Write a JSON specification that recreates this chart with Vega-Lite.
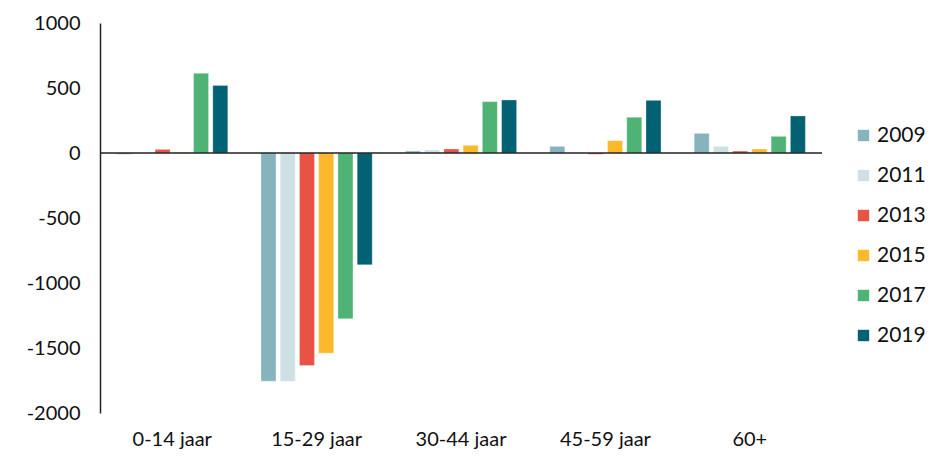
{
  "$schema": "https://vega.github.io/schema/vega-lite/v6.json",
  "width": 722,
  "height": 390,
  "autosize": "none",
  "padding": {"left": 100, "top": 23, "right": 116, "bottom": 49},
  "background": "white",
  "config": {"font": "Lato", "view": {"stroke": null}},
  "data": {
    "values": [
      {"group": "0-14 jaar", "year": "2009", "value": -10},
      {"group": "0-14 jaar", "year": "2011", "value": -5},
      {"group": "0-14 jaar", "year": "2013", "value": 28},
      {"group": "0-14 jaar", "year": "2015", "value": 5},
      {"group": "0-14 jaar", "year": "2017", "value": 613},
      {"group": "0-14 jaar", "year": "2019", "value": 520},
      {"group": "15-29 jaar", "year": "2009", "value": -1755},
      {"group": "15-29 jaar", "year": "2011", "value": -1755},
      {"group": "15-29 jaar", "year": "2013", "value": -1635},
      {"group": "15-29 jaar", "year": "2015", "value": -1540},
      {"group": "15-29 jaar", "year": "2017", "value": -1275},
      {"group": "15-29 jaar", "year": "2019", "value": -860},
      {"group": "30-44 jaar", "year": "2009", "value": 15},
      {"group": "30-44 jaar", "year": "2011", "value": 23},
      {"group": "30-44 jaar", "year": "2013", "value": 31},
      {"group": "30-44 jaar", "year": "2015", "value": 59},
      {"group": "30-44 jaar", "year": "2017", "value": 395},
      {"group": "30-44 jaar", "year": "2019", "value": 408},
      {"group": "45-59 jaar", "year": "2009", "value": 51},
      {"group": "45-59 jaar", "year": "2011", "value": 0},
      {"group": "45-59 jaar", "year": "2013", "value": -10},
      {"group": "45-59 jaar", "year": "2015", "value": 95},
      {"group": "45-59 jaar", "year": "2017", "value": 275},
      {"group": "45-59 jaar", "year": "2019", "value": 405},
      {"group": "60+", "year": "2009", "value": 151},
      {"group": "60+", "year": "2011", "value": 51},
      {"group": "60+", "year": "2013", "value": 15},
      {"group": "60+", "year": "2015", "value": 31},
      {"group": "60+", "year": "2017", "value": 128},
      {"group": "60+", "year": "2019", "value": 285}
    ]
  },
  "layer": [
    {
      "mark": {"type": "bar", "stroke": "white", "strokeOpacity": 0.6, "strokeWidth": 0.5},
      "encoding": {
        "x": {
          "field": "group", "type": "nominal", "sort": null,
          "scale": {"paddingInner": 0.23, "paddingOuter": 0.115},
          "axis": {"title": null, "domain": false, "ticks": false, "labelAngle": 0, "labelFontSize": 20, "labelColor": "#111", "labelPadding": 16, "labelFont": "Lato"}
        },
        "xOffset": {"field": "year", "type": "nominal", "scale": {"paddingInner": 0.22, "paddingOuter": 0}},
        "y": {
          "field": "value", "type": "quantitative",
          "scale": {"domain": [-2000, 1000], "nice": false, "zero": false},
          "axis": {"title": null, "values": [-2000, -1500, -1000, -500, 0, 500, 1000], "labelExpr": "datum.value + ''", "grid": false, "ticks": false, "domain": true, "domainColor": "#222", "domainWidth": 1.5, "labelFontSize": 20, "labelColor": "#111", "labelPadding": 20, "labelFont": "Lato"}
        },
        "color": {
          "field": "year", "type": "nominal",
          "scale": {"domain": ["2009", "2011", "2013", "2015", "2017", "2019"], "range": ["#86b3bd", "#cde0e4", "#e95343", "#fdb92b", "#4fb376", "#026173"]},
          "legend": {"title": null, "orient": "none", "legendX": 753, "legendY": 102, "symbolType": "square", "symbolSize": 130, "symbolStrokeWidth": 0, "labelFontSize": 21, "labelColor": "#111", "labelFont": "Lato", "rowPadding": 18, "labelOffset": 3}
        }
      }
    },
    {
      "mark": {"type": "rule", "color": "#222", "strokeWidth": 1.5},
      "data": {"values": [{"z": 0}]},
      "encoding": {"y": {"field": "z", "type": "quantitative"}}
    }
  ]
}
